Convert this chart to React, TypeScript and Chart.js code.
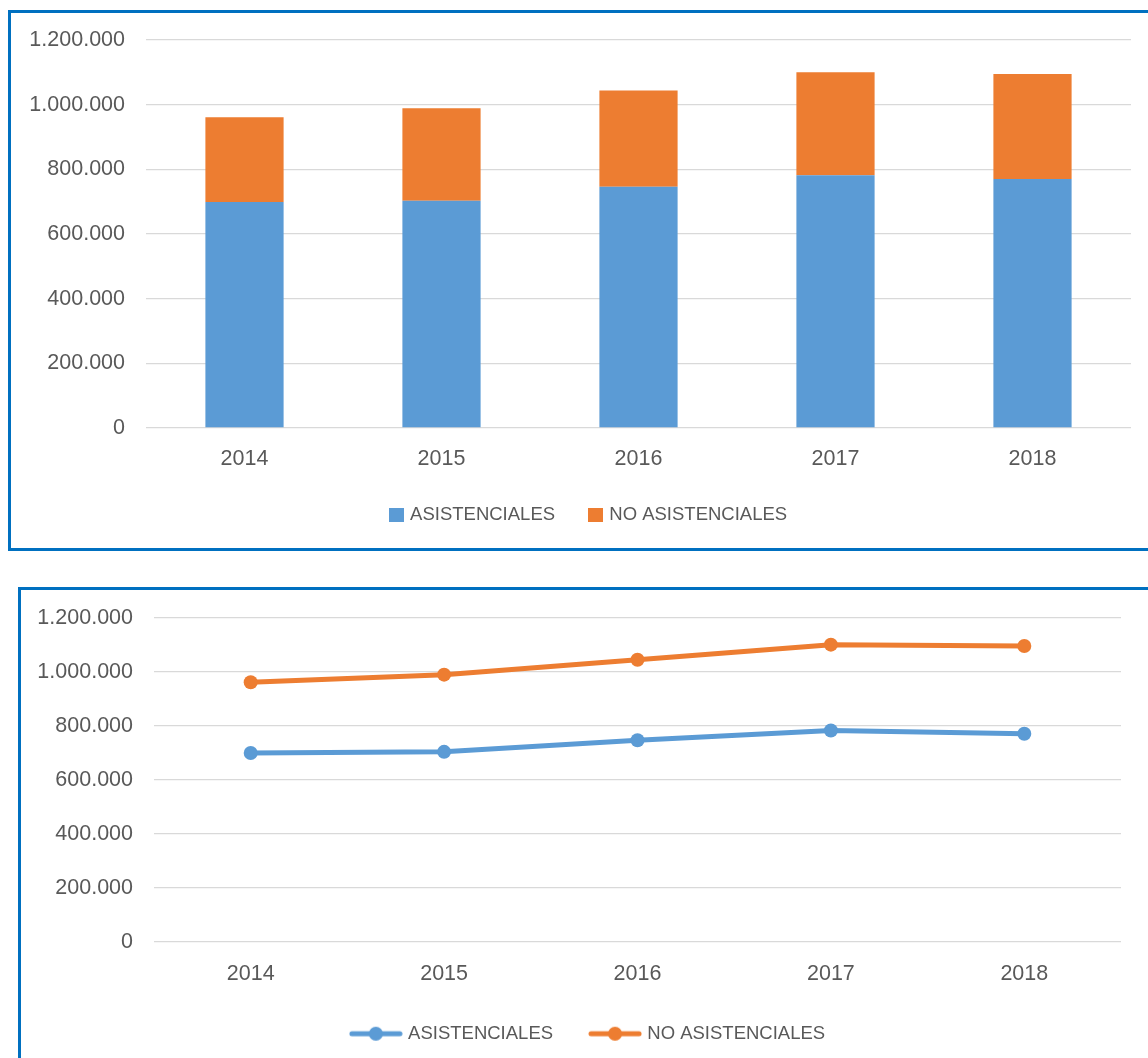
import React, { useEffect, useRef } from 'react';
import { Chart, registerables } from 'chart.js';

Chart.register(...registerables);

const years = ['2014', '2015', '2016', '2017', '2018'];
const asistenciales = [699000, 703000, 746000, 782000, 770000];
const noAsistenciales = [262000, 286000, 298000, 318000, 325000];
const seriesLabels = ['ASISTENCIALES', 'NO ASISTENCIALES'];
const yMin = 0;
const yMax = 1200000;
const yStep = 200000;

const BLUE = '#5B9BD5';
const ORANGE = '#ED7D31';
const TEXT = '#595959';
const GRID = '#D9D9D9';
const FRAME = '#0070C0';
const FONT = "'Liberation Sans', Arial, sans-serif";

const fmt = (v: number) => String(Math.round(v)).replace(/\B(?=(\d{3})+(?!\d))/g, '.');

function boxSwatch(color: string) {
  const c = document.createElement('canvas');
  c.width = 15;
  c.height = 14;
  const ctx = c.getContext('2d')!;
  ctx.fillStyle = color;
  ctx.fillRect(0, 0, 15, 14);
  return c;
}

function lineSwatch(color: string) {
  const c = document.createElement('canvas');
  c.width = 54;
  c.height = 16;
  const ctx = c.getContext('2d')!;
  ctx.strokeStyle = color;
  ctx.lineWidth = 5;
  ctx.lineCap = 'round';
  ctx.beginPath();
  ctx.moveTo(3, 8);
  ctx.lineTo(51, 8);
  ctx.stroke();
  ctx.fillStyle = color;
  ctx.beginPath();
  ctx.arc(27, 8, 7, 0, Math.PI * 2);
  ctx.fill();
  return c;
}

function legendLabels(swatches: HTMLCanvasElement[], styleWidth: number, boxHeight: number, padding: number) {
  return {
    font: { family: FONT, size: 18.5 },
    color: TEXT,
    usePointStyle: true,
    pointStyleWidth: styleWidth,
    boxHeight,
    padding,
    generateLabels: (c: any) => {
      const items = (Chart.defaults.plugins.legend.labels as any).generateLabels(c);
      items.forEach((it: any, i: number) => { it.pointStyle = swatches[i]; });
      return items;
    },
  };
}

function yScale(width: number, lineHeight: number) {
  return {
    stacked: true,
    min: yMin,
    max: yMax,
    grid: { color: GRID, lineWidth: 1.3, drawTicks: false },
    border: { display: false },
    ticks: { stepSize: yStep, color: TEXT, font: { family: FONT, size: 21.5, lineHeight }, padding: 21, callback: (v: any) => fmt(Number(v)) },
    afterFit: (s: any) => { s.width = width; },
  };
}

function spacerScale(width: number) {
  return {
    position: 'right',
    display: true,
    grid: { display: false, drawTicks: false },
    border: { display: false },
    ticks: { display: false },
    afterFit: (s: any) => { s.width = width; },
  };
}

function BarChart() {
  const ref = useRef<HTMLCanvasElement>(null);
  useEffect(() => {
    const swatches = [boxSwatch(BLUE), boxSwatch(ORANGE)];
    const chart = new Chart(ref.current!, {
      type: 'bar',
      data: {
        labels: years,
        datasets: [
          { label: seriesLabels[0], data: asistenciales, backgroundColor: BLUE, barPercentage: 0.397, categoryPercentage: 1 },
          { label: seriesLabels[1], data: noAsistenciales, backgroundColor: ORANGE, barPercentage: 0.397, categoryPercentage: 1 },
        ],
      },
      options: {
        responsive: false,
        animation: false,
        layout: { padding: { left: 0, right: 0, top: 0, bottom: 14 } },
        plugins: {
          tooltip: { enabled: false },
          legend: { position: 'bottom', labels: legendLabels(swatches, 9, 14, 36) },
        },
        scales: {
          x: {
            stacked: true,
            grid: { display: false, drawTicks: false },
            border: { display: false },
            ticks: { color: TEXT, font: { family: FONT, size: 21.5 }, padding: 18 },
            afterFit: (s: any) => { s.height = 41.5; },
          },
          y: yScale(135, 0.56),
          spacer: spacerScale(37),
        },
      } as any,
    });
    return () => chart.destroy();
  }, []);
  return <canvas ref={ref} width={1157} height={535} style={{ display: 'block', width: 1157, height: 535 }} />;
}

function LineChart() {
  const ref = useRef<HTMLCanvasElement>(null);
  useEffect(() => {
    const swatches = [lineSwatch(BLUE), lineSwatch(ORANGE)];
    const common = { borderWidth: 5, pointRadius: 7, pointBorderWidth: 0, pointHoverRadius: 7, tension: 0, fill: false };
    const chart = new Chart(ref.current!, {
      type: 'line',
      data: {
        labels: years,
        datasets: [
          { label: seriesLabels[0], data: asistenciales, borderColor: BLUE, backgroundColor: BLUE, pointBackgroundColor: BLUE, ...common },
          { label: seriesLabels[1], data: noAsistenciales, borderColor: ORANGE, backgroundColor: ORANGE, pointBackgroundColor: ORANGE, ...common },
        ],
      },
      options: {
        responsive: false,
        animation: false,
        layout: { padding: { left: 0, right: 0, top: 0, bottom: 7 } },
        plugins: {
          tooltip: { enabled: false },
          legend: { position: 'bottom', labels: legendLabels(swatches, 46, 16, 39) },
        },
        scales: {
          x: {
            offset: true,
            grid: { display: false, drawTicks: false },
            border: { display: false },
            ticks: { color: TEXT, font: { family: FONT, size: 21.5 }, padding: 19 },
            afterFit: (s: any) => { s.height = 43.8; },
          },
          y: yScale(133, 0.62),
          spacer: spacerScale(36),
        },
      } as any,
    });
    return () => chart.destroy();
  }, []);
  return <canvas ref={ref} width={1136} height={470} style={{ display: 'block', width: 1136, height: 470 }} />;
}

export default function App() {
  return (
    <div style={{ position: 'fixed', left: 0, top: 0, width: 1148, height: 1058, overflow: 'hidden', background: '#fff' }}>
      <div style={{ position: 'absolute', left: 8, top: 10, border: `3px solid ${FRAME}`, background: '#fff' }}>
        <BarChart />
      </div>
      <div style={{ position: 'absolute', left: 18, top: 587, border: `3px solid ${FRAME}`, background: '#fff' }}>
        <LineChart />
      </div>
    </div>
  );
}
